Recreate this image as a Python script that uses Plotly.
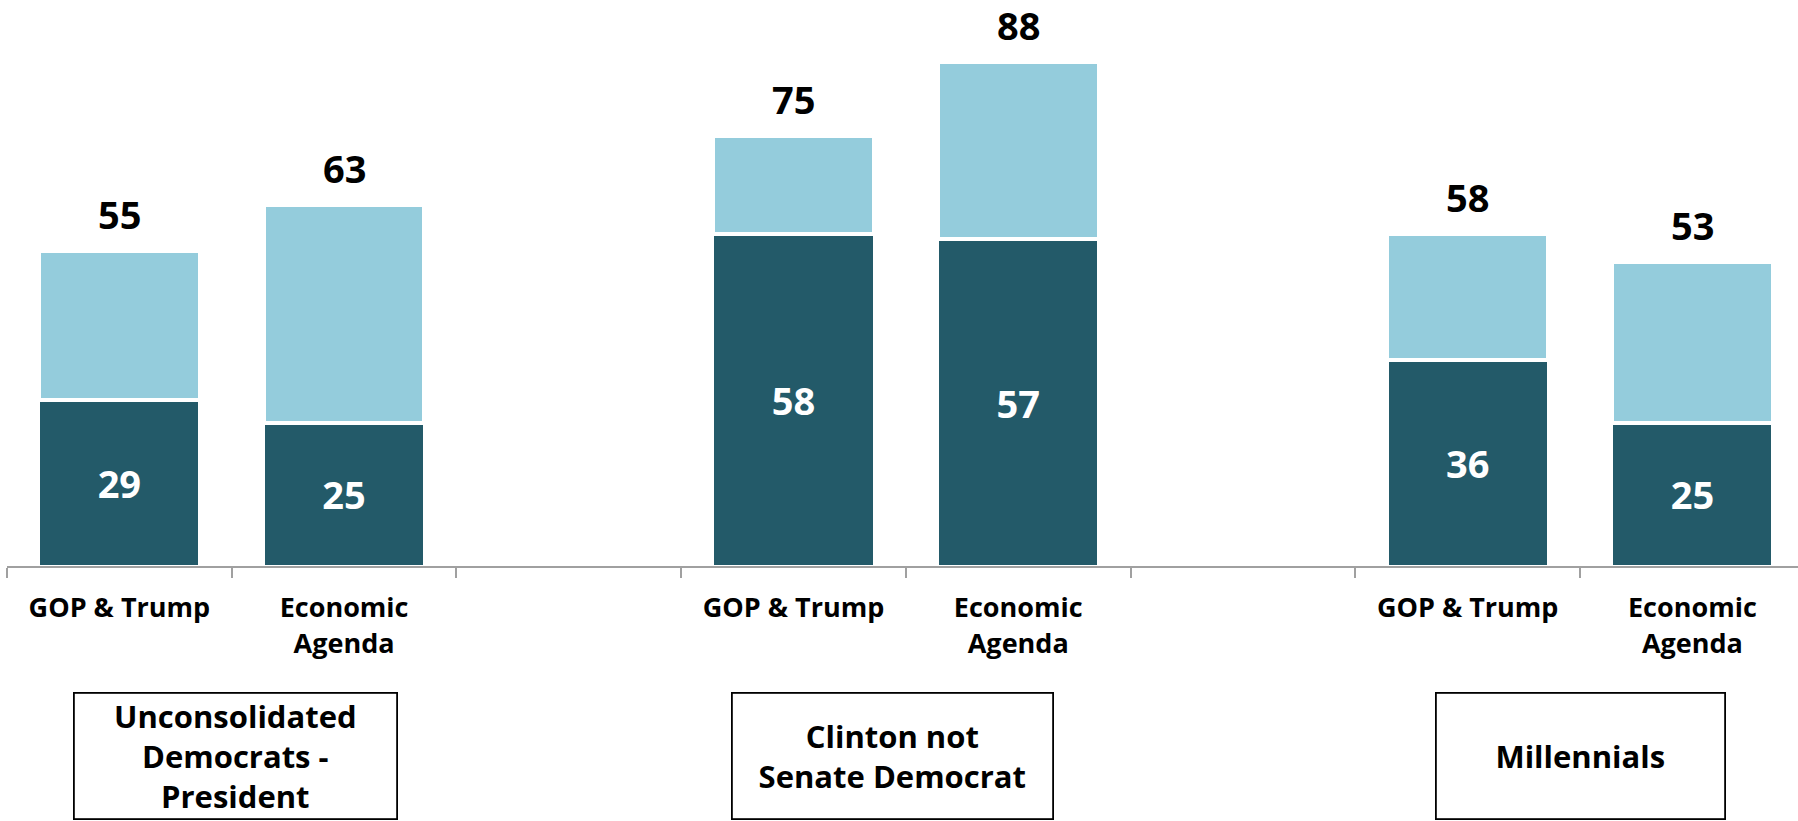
import plotly.graph_objects as go

# ---- data ----
groups = ["Unconsolidated<br>Democrats -<br>President", "Clinton not<br>Senate Democrat", "Millennials"]
measures = ["GOP & Trump", "Economic<br>Agenda"]
strong = [29, 25, 58, 57, 36, 25]      # dark segment
total = [55, 63, 75, 88, 58, 53]       # total (label above bar)

# ---- styling ----
DARK = "#235A69"
LIGHT = "#94CCDC"
FONT = "Open Sans"
AXIS_GRAY = "#A0A0A0"

n_m = len(measures)
slot = n_m + 1
xs = [g * slot + m for g in range(len(groups)) for m in range(n_m)]
labels = [measures[m] for g in range(len(groups)) for m in range(n_m)]
rest = [t - s for t, s in zip(total, strong)]

fig = go.Figure()
fig.add_trace(go.Bar(
    x=xs, y=strong, width=0.715,
    marker=dict(color=DARK, line=dict(color="white", width=2.5)),
    text=[str(v) for v in strong], textposition="inside",
    insidetextanchor="middle", textangle=0,
    textfont=dict(family=FONT, size=38, color="white", weight=700),
    hoverinfo="skip", showlegend=False,
))
fig.add_trace(go.Bar(
    x=xs, y=rest, width=0.715,
    marker=dict(color=LIGHT, line=dict(color="white", width=4)),
    hoverinfo="skip", showlegend=False,
))

for x, t in zip(xs, total):
    fig.add_annotation(
        x=x, y=t, xref="x", yref="y", text=str(t), showarrow=False,
        yanchor="bottom", yshift=10, borderpad=0,
        font=dict(family=FONT, size=38, color="black", weight=700),
    )

box_w = [321, 319, 287]
box_shift = [4, -13, 0]
for g, name in enumerate(groups):
    fig.add_annotation(
        x=g * slot + (n_m - 1) / 2, xref="x", y=0, yref="paper",
        yanchor="middle", yshift=-190, xshift=box_shift[g],
        text=name, showarrow=False, align="center", valign="middle",
        width=box_w[g], height=124, borderpad=0,
        bordercolor="black", borderwidth=1.8,
        font=dict(family=FONT, size=31, color="black", weight=700),
    )

n_slots = len(groups) * slot - 1
fig.update_layout(
    barmode="stack",
    width=1798, height=821,
    margin=dict(l=7, r=0, t=0, b=255),
    plot_bgcolor="white", paper_bgcolor="white",
    xaxis=dict(
        range=[-0.5, n_slots - 0.53],
        tickmode="array", tickvals=xs, ticktext=labels, ticks="",
        ticklabelstandoff=17,
        tickfont=dict(family=FONT, size=27, color="black", weight=700),
        showline=True, linecolor=AXIS_GRAY, linewidth=2,
        showgrid=False, zeroline=False,
        minor=dict(tickmode="array", tickvals=[i - 0.5 for i in range(n_slots + 1)],
                   ticks="outside", ticklen=10, tickwidth=2, tickcolor=AXIS_GRAY,
                   showgrid=False),
    ),
    yaxis=dict(range=[0, 98.8], visible=False, showgrid=False, zeroline=False),
)

fig.write_html("out.html", config={"displayModeBar": False},
               post_script="document.body.style.margin='0';")
